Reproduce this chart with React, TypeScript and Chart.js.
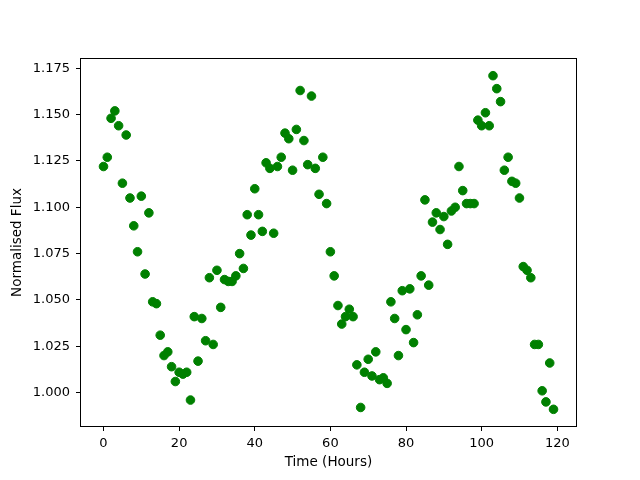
import React, { useEffect, useRef } from "react";
import { Chart, registerables } from "chart.js";

Chart.register(...registerables);

const hours = [
  0, 1, 2, 3, 4, 5, 6, 7, 8, 9,
  10, 11, 12, 13, 14, 15, 16, 17, 18, 19,
  20, 21, 22, 23, 24, 25, 26, 27, 28, 29,
  30, 31, 32, 33, 34, 35, 36, 37, 38, 39,
  40, 41, 42, 43, 44, 45, 46, 47, 48, 49,
  50, 51, 52, 53, 54, 55, 56, 57, 58, 59,
  60, 61, 62, 63, 64, 65, 66, 67, 68, 69,
  70, 71, 72, 73, 74, 75, 76, 77, 78, 79,
  80, 81, 82, 83, 84, 85, 86, 87, 88, 89,
  90, 91, 92, 93, 94, 95, 96, 97, 98, 99,
  100, 101, 102, 103, 104, 105, 106, 107, 108, 109,
  110, 111, 112, 113, 114, 115, 116, 117, 118, 119,
];

const flux = [
  1.122, 1.127, 1.148, 1.152, 1.144, 1.113, 1.139, 1.105, 1.090, 1.076,
  1.106, 1.064, 1.097, 1.049, 1.048, 1.031, 1.020, 1.022, 1.014, 1.006,
  1.011, 1.010, 1.011, 0.996, 1.041, 1.017, 1.040, 1.028, 1.062, 1.026,
  1.066, 1.046, 1.061, 1.060, 1.060, 1.063, 1.075, 1.067, 1.096, 1.085,
  1.110, 1.096, 1.087, 1.124, 1.121, 1.086, 1.122, 1.127, 1.140, 1.137,
  1.120, 1.142, 1.163, 1.136, 1.123, 1.160, 1.121, 1.107, 1.127, 1.102,
  1.076, 1.063, 1.047, 1.037, 1.041, 1.045, 1.041, 1.015, 0.992, 1.011,
  1.018, 1.009, 1.022, 1.007, 1.008, 1.005, 1.049, 1.040, 1.020, 1.055,
  1.034, 1.056, 1.027, 1.042, 1.063, 1.104, 1.058, 1.092, 1.097, 1.088,
  1.095, 1.080, 1.098, 1.100, 1.122, 1.109, 1.102, 1.102, 1.102, 1.147,
  1.144, 1.151, 1.144, 1.171, 1.164, 1.157, 1.120, 1.127, 1.114, 1.113,
  1.105, 1.068, 1.066, 1.062, 1.026, 1.026, 1.001, 0.995, 1.016, 0.991,
];

const xTicks = [0, 20, 40, 60, 80, 100, 120];
const yTicks = [1.0, 1.025, 1.05, 1.075, 1.1, 1.125, 1.15, 1.175];

const xLabel = "Time (Hours)";
const yLabel = "Normalised Flux";

const FONT = "'DejaVu Sans', sans-serif";

const framePlugin = {
  id: "frame",
  afterDraw(chart: any) {
    const { ctx, chartArea } = chart;
    const { left, top, right, bottom } = chartArea;
    ctx.save();
    ctx.strokeStyle = "#000";
    ctx.lineWidth = 1;
    ctx.strokeRect(left - 0.5, top - 0.5, right - left + 1, bottom - top + 1);
    ctx.restore();
  },
};

export default function App() {
  const ref = useRef<HTMLCanvasElement | null>(null);

  useEffect(() => {
    if (!ref.current) return;
    document.body.style.margin = "0";
    const points = hours.map((h, i) => ({ x: h, y: flux[i] }));
    const xMin = Math.min(...hours);
    const xMax = Math.max(...hours);
    const yMin = Math.min(...flux);
    const yMax = Math.max(...flux);
    const xm = (xMax - xMin) * 0.05;
    const ym = (yMax - yMin) * 0.05;

    const chart = new Chart(ref.current, {
      type: "scatter",
      data: {
        datasets: [
          {
            data: points,
            backgroundColor: "#008000",
            borderColor: "#008000",
            pointRadius: 4.3,
            pointBorderWidth: 1,
            pointHoverRadius: 4.3,
          },
        ],
      },
      options: {
        animation: false,
        responsive: false,
        events: [],
        layout: { padding: { top: 59, right: 64, left: 0, bottom: 0 } },
        plugins: {
          legend: { display: false },
          tooltip: { enabled: false },
        },
        scales: {
          x: {
            type: "linear",
            min: xMin - xm,
            max: xMax + xm,
            afterBuildTicks: (scale: any) => {
              scale.ticks = xTicks.map((v) => ({ value: v }));
            },
            afterFit: (scale: any) => {
              scale.height = 54;
            },
            ticks: {
              autoSkip: false,
              maxRotation: 0,
              padding: 5,
              color: "#000",
              font: { family: FONT, size: 13 },
              callback: (v: any) => String(v),
            },
            grid: {
              display: true,
              drawOnChartArea: false,
              drawTicks: true,
              tickLength: 5,
              color: "#000",
              lineWidth: 1,
            },
            border: { display: false },
            title: {
              display: true,
              text: xLabel,
              color: "#000",
              font: { family: FONT, size: 13.5 },
              padding: { top: 0, bottom: 9 },
            },
          },
          y: {
            type: "linear",
            min: yMin - ym,
            max: yMax + ym,
            afterBuildTicks: (scale: any) => {
              scale.ticks = yTicks.map((v) => ({ value: v }));
            },
            afterFit: (scale: any) => {
              scale.width = 81;
            },
            ticks: {
              autoSkip: false,
              padding: 6,
              color: "#000",
              font: { family: FONT, size: 13 },
              callback: (v: any) => Number(v).toFixed(3),
            },
            grid: {
              display: true,
              drawOnChartArea: false,
              drawTicks: true,
              tickLength: 5,
              color: "#000",
              lineWidth: 1,
            },
            border: { display: false },
            title: {
              display: true,
              text: yLabel,
              color: "#000",
              font: { family: FONT, size: 13.5 },
              padding: { top: 9, bottom: 0 },
            },
          },
        },
      },
      plugins: [framePlugin],
    });
    return () => chart.destroy();
  }, []);

  return (
    <div style={{ position: "absolute", left: 0, top: 0, width: 640, height: 480, background: "#fff" }}>
      <canvas ref={ref} width={640} height={480} style={{ width: 640, height: 480 }} />
    </div>
  );
}
